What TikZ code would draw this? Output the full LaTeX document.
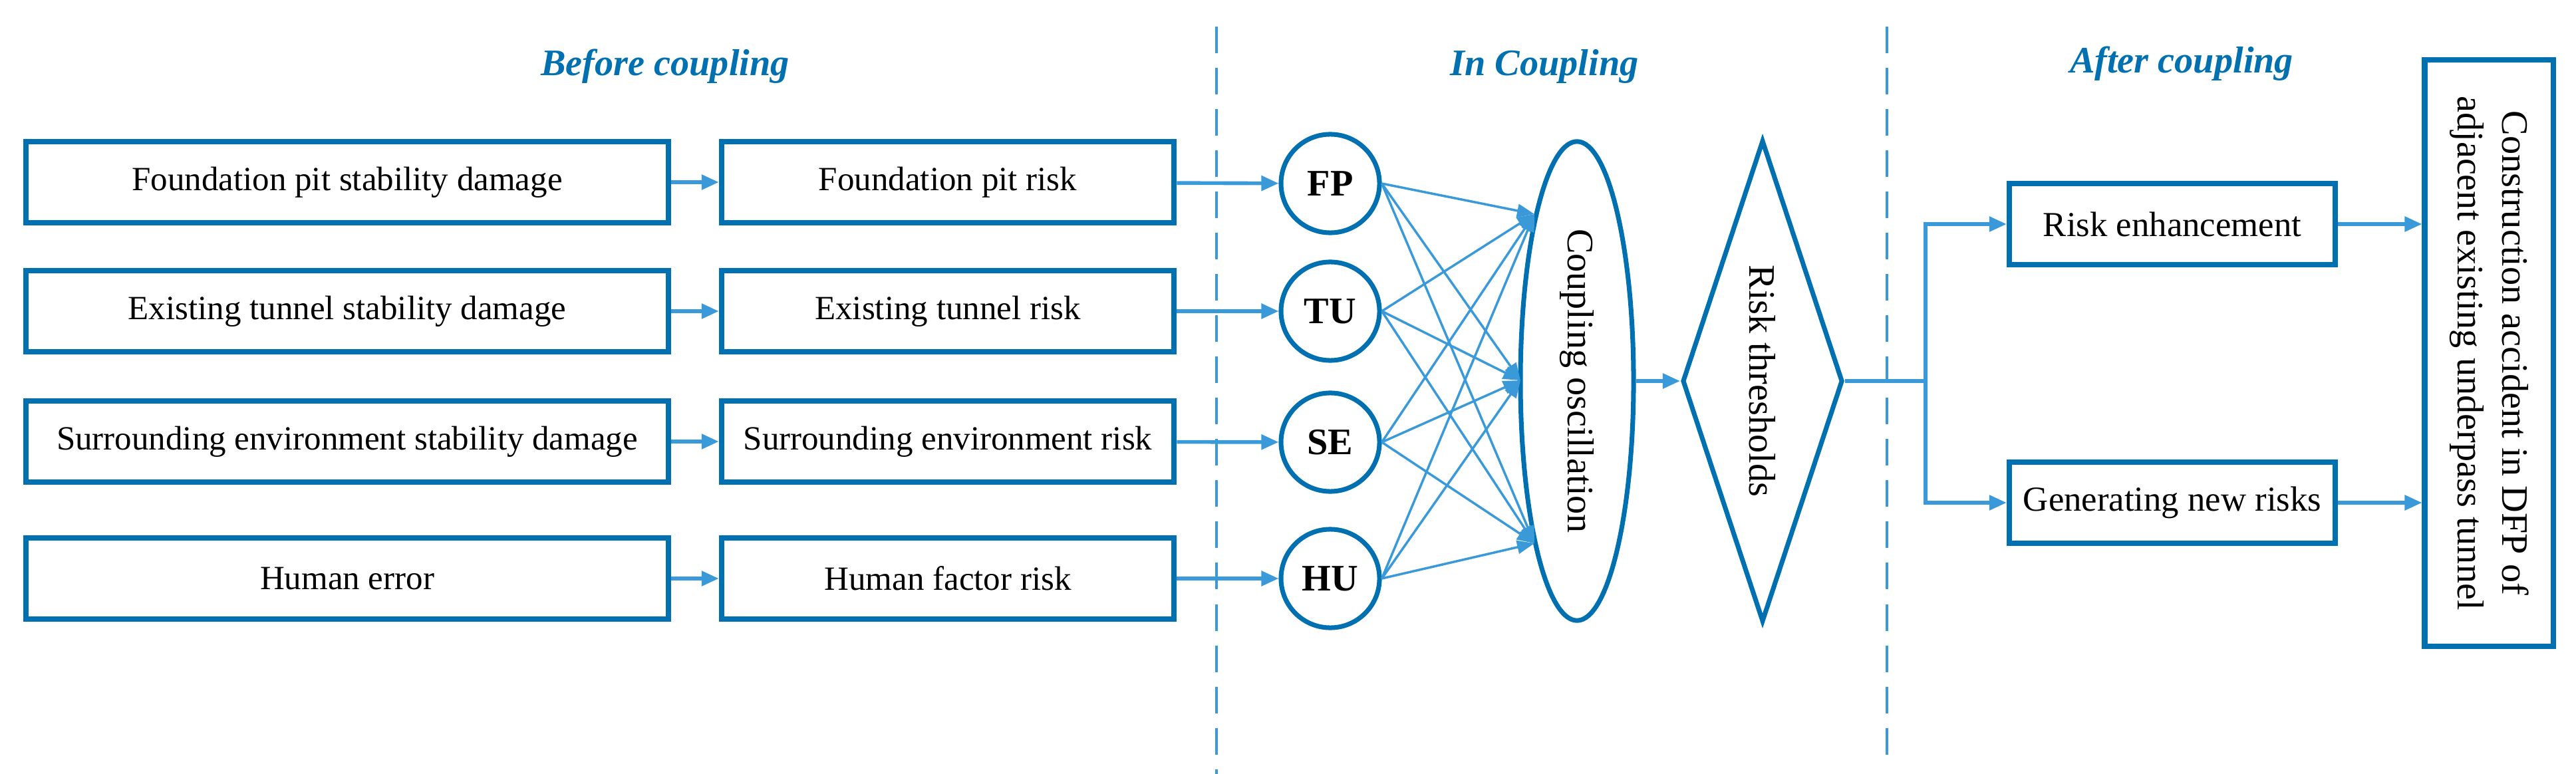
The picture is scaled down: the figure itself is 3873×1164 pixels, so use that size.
\documentclass[tikz,border=0pt]{standalone}
\usepackage{fontspec}
\setmainfont{Liberation Serif}
\usetikzlibrary{arrows.meta,shapes.geometric}
\definecolor{boxc}{RGB}{0,112,176}
\definecolor{arrc}{RGB}{58,154,217}
\begin{document}
\begin{tikzpicture}[x=0.01cm,y=-0.01cm,
  box/.style={draw=boxc,line width=2.3pt,rectangle,inner sep=0pt,minimum height=1.22cm,font=\fontsize{14.5}{17}\selectfont},
  circ/.style={draw=boxc,line width=2pt,circle,minimum size=1.48cm,inner sep=0pt,font=\fontsize{16}{19}\selectfont\bfseries},
  arr/.style={draw=arrc,line width=1.6pt,-{Triangle[length=0.26cm,width=0.22cm]}},
  fan/.style={draw=arrc,line width=1pt,-{Triangle[length=0.26cm,width=0.2cm]}},
  title/.style={text=boxc,font=\fontsize{16}{19}\selectfont\bfseries\itshape},
  sepline/.style={draw=arrc,line width=1.3pt,dash pattern=on 0.4cm off 0.22cm}]
\useasboundingbox (0,0) rectangle (3873,1164);
\node[title] (t1) at (1000,100) {Before coupling};
\node[title] (t2) at (2322,100) {In Coupling};
\node[title] (t3) at (3280,96) {After coupling};
\coordinate (d1a) at (1829,40); \coordinate (d1b) at (1829,1164);
\coordinate (d2a) at (2837,40); \coordinate (d2b) at (2837,1140);
\draw[sepline] (d1a) -- (d1b);
\draw[sepline] (d2a) -- (d2b);
% left columns
\node[box,minimum width=9.65cm] (a1) at (522,274) {Foundation pit stability damage};
\node[box,minimum width=9.65cm] (a2) at (522,468) {Existing tunnel stability damage};
\node[box,minimum width=9.65cm] (a3) at (522,664) {Surrounding environment stability damage};
\node[box,minimum width=9.65cm] (a4) at (522,870) {Human error};
\node[box,minimum width=6.8cm] (b1) at (1425,274) {Foundation pit risk};
\node[box,minimum width=6.8cm] (b2) at (1425,468) {Existing tunnel risk};
\node[box,minimum width=6.8cm] (b3) at (1425,664) {Surrounding environment risk};
\node[box,minimum width=6.8cm] (b4) at (1425,870) {Human factor risk};
\node[circ] (c1) at (2000,276) {FP};
\node[circ] (c2) at (2000,468) {TU};
\node[circ] (c3) at (2000,665) {SE};
\node[circ] (c4) at (2000,870) {HU};
\foreach \i in {1,...,4}{
  \draw[arr] (a\i) -- (b\i);
  \draw[arr] (b\i) -- (c\i);
}
% ellipse
\node[draw=boxc,line width=2pt,ellipse,minimum width=1.7cm,minimum height=7.2cm,inner sep=0pt,font=\fontsize{16}{19}\selectfont] (el) at (2371,573) {\rotatebox{-90}{Coupling oscillation}};
\coordinate (e1) at (2307,322);
\coordinate (e2) at (2286,572);
\coordinate (e3) at (2307,817);
\foreach \i in {1,...,4}{
  \foreach \j in {1,2,3}{
    \draw[fan] (c\i.east) -- (e\j);
  }
}
% diamond
\node[draw=boxc,line width=2pt,diamond,aspect=0.333,minimum width=2.41cm,minimum height=7.24cm,inner sep=0pt,font=\fontsize{16}{19}\selectfont] (dm) at (2650,573) {\rotatebox{-90}{Risk thresholds}};
\draw[arr] (el.east) -- (dm.west);
% after
\node[box,minimum width=4.9cm,font=\fontsize{15}{18}\selectfont] (r1) at (3266,337) {Risk enhancement};
\node[box,minimum width=4.9cm,font=\fontsize{15}{18}\selectfont] (r2) at (3266,756) {Generating new risks};
\node[box,minimum width=1.93cm,minimum height=8.81cm,font=\fontsize{16}{19}\selectfont] (big) at (3742,531)
  {\rotatebox{-90}{\begin{tabular}{c}Construction accident in DFP of\\adjacent existing underpass tunnel\end{tabular}}};
\coordinate (br) at (2895,573);
\draw[draw=arrc,line width=1.6pt] (dm.east) -- (br);
\draw[arr] (br) |- (r1.west);
\draw[arr] (br) |- (r2.west);
\draw[arr] (r1.east) -- (r1.east -| big.west);
\draw[arr] (r2.east) -- (r2.east -| big.west);
\end{tikzpicture}
\end{document}
